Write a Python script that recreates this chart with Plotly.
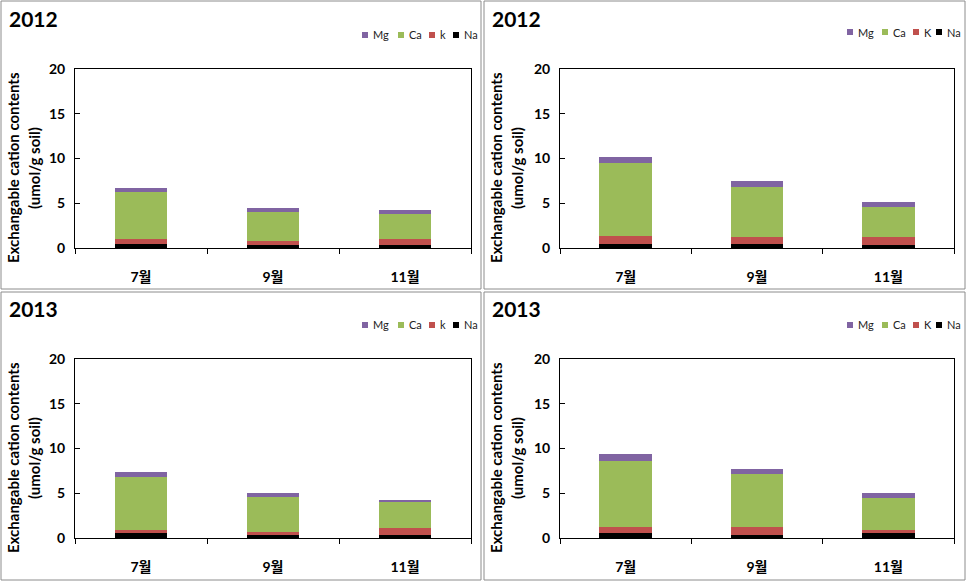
import plotly.graph_objects as go

W, H = 967, 584

months = ["7월", "9월", "11월"]
years = ["2012", "2012", "2013", "2013"]
k_names = ["k", "K", "k", "K"]

# values (umol/g soil), stacked Na, K, Ca, Mg
na_1 = [0.50, 0.37, 0.37]
k_1 = [0.55, 0.38, 0.67]
ca_1 = [5.20, 3.30, 2.80]
mg_1 = [0.45, 0.37, 0.45]

na_2 = [0.50, 0.50, 0.37]
k_2 = [0.86, 0.75, 0.90]
ca_2 = [8.15, 5.60, 3.35]
mg_2 = [0.71, 0.67, 0.48]

na_3 = [0.52, 0.30, 0.37]
k_3 = [0.37, 0.33, 0.71]
ca_3 = [5.96, 3.99, 2.91]
mg_3 = [0.56, 0.37, 0.29]

na_4 = [0.52, 0.37, 0.52]
k_4 = [0.75, 0.82, 0.37]
ca_4 = [7.30, 5.92, 3.62]
mg_4 = [0.78, 0.64, 0.48]

panels = [(na_1, k_1, ca_1, mg_1), (na_2, k_2, ca_2, mg_2),
          (na_3, k_3, ca_3, mg_3), (na_4, k_4, ca_4, mg_4)]

colors = {"Na": "#000000", "K": "#C0504D", "Ca": "#9BBB59", "Mg": "#8064A2"}

FONT = "Lato, 'Noto Sans CJK KR', 'DejaVu Sans', sans-serif"

# pixel geometry
plot_boxes = [(75, 471, 69, 248), (560, 954, 69, 248),
              (75, 471, 359, 538), (560, 954, 359, 538)]
border_boxes = [(1, 481, 1, 289), (484, 965, 1, 289),
                (1, 481, 292, 580), (484, 965, 292, 580)]
year_pos = [(7, 18), (490, 18), (7, 308), (490, 308)]
ytitle_pos = [(13, 34, 168), (496, 517, 168), (13, 34, 458), (496, 517, 458)]
# legend: left x of each swatch (Mg, Ca, K, Na) and centre y
legend_x = [(362, 398, 429, 453), (847, 882, 913, 936),
            (362, 398, 429, 453), (847, 882, 913, 936)]
legend_y = [35, 32, 325, 325]


def px(x):
    return x / W


def py(y):
    return 1 - y / H


fig = go.Figure()
layout = dict(
    template="none",
    width=W, height=H, autosize=False,
    margin=dict(l=0, r=0, t=0, b=0, pad=0, autoexpand=False),
    paper_bgcolor="white", plot_bgcolor="white",
    barmode="stack", bargap=0.6, showlegend=False,
    font=dict(family=FONT, color="#000000"),
    shapes=[], annotations=[],
)

for i, (na, kk, ca, mg) in enumerate(panels):
    n = i + 1
    xa = "x" if n == 1 else f"x{n}"
    ya = "y" if n == 1 else f"y{n}"
    series = [("Na", na), (k_names[i], kk), ("Ca", ca), ("Mg", mg)]
    for name, vals in series:
        ckey = "K" if name.lower() == "k" else name
        fig.add_trace(go.Bar(
            x=months, y=vals, name=name, xaxis=xa, yaxis=ya,
            marker=dict(color=colors[ckey], line=dict(width=0)),
            hoverinfo="y+name",
        ))
    x0, x1, y0, y1 = plot_boxes[i]
    xkey = "xaxis" if n == 1 else f"xaxis{n}"
    ykey = "yaxis" if n == 1 else f"yaxis{n}"
    layout[xkey] = dict(
        domain=[px(x0), px(x1)], anchor=ya, type="category", automargin=False,
        showline=True, linecolor="black", linewidth=1, mirror=True,
        ticks="outside", tickson="boundaries", ticklen=5, tickcolor="black",
        tickwidth=1, showgrid=False, zeroline=False,
        tickfont=dict(size=14, family=FONT, weight="bold", color="#000"),
        ticklabelstandoff=16,
    )
    layout[ykey] = dict(
        domain=[py(y1), py(y0)], anchor=xa, range=[0, 20], dtick=5,
        automargin=False,
        showline=True, linecolor="black", linewidth=1, mirror=True,
        ticks="inside", ticklen=5, tickcolor="black", tickwidth=1,
        showgrid=False, zeroline=False,
        tickfont=dict(size=14, family=FONT, weight="bold", color="#000"),
        ticklabelstandoff=6,
    )
    # legend (Mg, Ca, K, Na order, as in the reference)
    leg = [("Mg", "Mg"), ("Ca", "Ca"), (k_names[i], "K"), ("Na", "Na")]
    ly = legend_y[i]
    for (label, ckey), lx in zip(leg, legend_x[i]):
        layout["shapes"].append(dict(
            type="rect", xref="paper", yref="paper",
            x0=px(lx), x1=px(lx + 6), y0=py(ly + 3), y1=py(ly - 3),
            line=dict(width=0), fillcolor=colors[ckey],
        ))
        layout["annotations"].append(dict(
            text=label, xref="paper", yref="paper", x=px(lx + 9), y=py(ly),
            xanchor="left", yanchor="middle", showarrow=False,
            font=dict(size=11, family=FONT, color="#222"),
        ))
    bx0, bx1, by0, by1 = border_boxes[i]
    layout["shapes"].append(dict(
        type="rect", xref="paper", yref="paper",
        x0=px(bx0), x1=px(bx1), y0=py(by1), y1=py(by0),
        line=dict(color="#8c8c8c", width=1), fillcolor="rgba(0,0,0,0)",
        layer="below",
    ))
    yx, yy = year_pos[i]
    layout["annotations"].append(dict(
        text=years[i], xref="paper", yref="paper", x=px(yx), y=py(yy),
        xanchor="left", yanchor="middle", showarrow=False,
        font=dict(size=21, family=FONT, weight="bold", color="#000"),
    ))
    tx1, tx2, ty = ytitle_pos[i]
    layout["annotations"].append(dict(
        text="Exchangable cation contents", xref="paper", yref="paper",
        x=px(tx1), y=py(ty), xanchor="center", yanchor="middle",
        textangle=-90, showarrow=False,
        font=dict(size=15, family=FONT, weight="bold", color="#000"),
    ))
    layout["annotations"].append(dict(
        text="(umol/g soil)", xref="paper", yref="paper",
        x=px(tx2), y=py(ty), xanchor="center", yanchor="middle",
        textangle=-90, showarrow=False,
        font=dict(size=15, family=FONT, weight="bold", color="#000"),
    ))

fig.update_layout(**layout)
post = ("document.documentElement.style.margin='0';"
        "document.body.style.margin='0';document.body.style.padding='0';"
        "document.body.style.overflow='hidden';"
        "document.documentElement.style.overflow='hidden';"
        "var g=document.getElementById('{plot_id}');"
        "if(g&&g.parentElement){g.parentElement.style.margin='0';"
        "g.parentElement.style.padding='0';}")
fig.write_html("out.html", post_script=post,
               config={"displayModeBar": False, "responsive": False})
